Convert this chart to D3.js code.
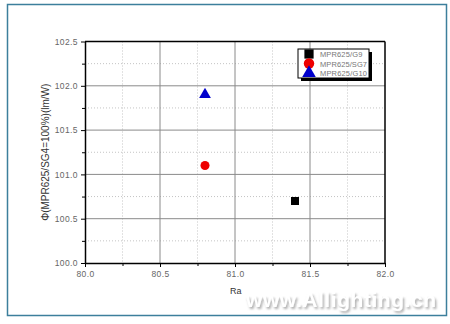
<!DOCTYPE html>
<html>
<head>
<meta charset="utf-8">
<script src="https://cdn.jsdelivr.net/npm/d3@7"></script>
<style>
  body { margin: 0; background: #fff; }
  svg { display: block; font-family: Arial, "Liberation Sans", sans-serif; }
</style>
</head>
<body>
<div id="chart"></div>
<script>
// data
const seriesNames = ['MPR625/G9', 'MPR625/SG7', 'MPR625/G10'];
const raValues = [81.4, 80.8, 80.8];
const fluxValues = [100.7, 101.1, 101.9];
const seriesColors = ['#000000', '#ee0000', '#0000cc'];
const seriesShapes = ['square', 'circle', 'triangle'];
const xTicks = [80.0, 80.5, 81.0, 81.5, 82.0];
const yTicks = [100.0, 100.5, 101.0, 101.5, 102.0, 102.5];

const width = 450, height = 324;
const margin = { top: 41.5, right: 65, bottom: 61, left: 85 };
const innerW = width - margin.left - margin.right;
const innerH = height - margin.top - margin.bottom;

const svg = d3.select('#chart').append('svg')
  .attr('width', width)
  .attr('height', height);

// soft shadow for the watermark
const defs = svg.append('defs');
defs.append('filter').attr('id', 'wmShadow')
  .attr('x', '-5%').attr('y', '-30%').attr('width', '115%').attr('height', '170%')
  .append('feDropShadow')
  .attr('dx', 1.5).attr('dy', 2).attr('stdDeviation', 1.2)
  .attr('flood-color', '#888').attr('flood-opacity', 0.7);

// outer frame
svg.append('rect')
  .attr('x', 7.5).attr('y', 4.5)
  .attr('width', 439).attr('height', 311)
  .attr('fill', '#fff')
  .attr('stroke', '#3c7f9c')
  .attr('stroke-width', 1.5);

const g = svg.append('g')
  .attr('transform', `translate(${margin.left},${margin.top})`);

const x = d3.scaleLinear().domain([80, 82]).range([0, innerW]);
const y = d3.scaleLinear().domain([100, 102.5]).range([innerH, 0]);

const minorX = d3.range(80.25, 82, 0.5);
const minorY = d3.range(100.25, 102.5, 0.5);

// minor dotted grid
g.append('g').selectAll('line').data(minorX).enter().append('line')
  .attr('x1', d => x(d)).attr('x2', d => x(d))
  .attr('y1', 0).attr('y2', innerH)
  .attr('stroke', '#c4c4c4').attr('stroke-dasharray', '1,2');
g.append('g').selectAll('line').data(minorY).enter().append('line')
  .attr('y1', d => y(d)).attr('y2', d => y(d))
  .attr('x1', 0).attr('x2', innerW)
  .attr('stroke', '#c4c4c4').attr('stroke-dasharray', '1,2');

// major grid
g.append('g').selectAll('line').data(xTicks.slice(1, -1)).enter().append('line')
  .attr('x1', d => x(d)).attr('x2', d => x(d))
  .attr('y1', 0).attr('y2', innerH)
  .attr('stroke', '#8a8a8a').attr('stroke-width', 1);
g.append('g').selectAll('line').data(yTicks.slice(1, -1)).enter().append('line')
  .attr('y1', d => y(d)).attr('y2', d => y(d))
  .attr('x1', 0).attr('x2', innerW)
  .attr('stroke', '#8a8a8a').attr('stroke-width', 1);

// axes
const styleAxis = sel => {
  sel.select('.domain').attr('stroke', '#000').attr('stroke-width', 1.5);
  sel.selectAll('.tick line').attr('stroke', '#000');
  sel.selectAll('.tick text').attr('fill', '#666').style('font-size', '8.5px').style('letter-spacing', '0.4px');
};

g.append('g')
  .attr('transform', `translate(0,${innerH})`)
  .call(d3.axisBottom(x).tickValues(xTicks).tickFormat(d3.format('.1f')).tickSize(4).tickSizeOuter(0).tickPadding(4))
  .call(styleAxis);
g.append('g')
  .attr('transform', `translate(0,${innerH})`)
  .call(d3.axisBottom(x).tickValues(minorX).tickFormat('').tickSize(3).tickSizeOuter(0))
  .call(sel => sel.select('.domain').remove())
  .call(sel => sel.selectAll('.tick line').attr('stroke', '#000'));

g.append('g')
  .call(d3.axisLeft(y).tickValues(yTicks).tickFormat(d3.format('.1f')).tickSize(4).tickSizeOuter(0).tickPadding(3))
  .call(styleAxis);
g.append('g')
  .call(d3.axisLeft(y).tickValues(minorY).tickFormat('').tickSize(3).tickSizeOuter(0))
  .call(sel => sel.select('.domain').remove())
  .call(sel => sel.selectAll('.tick line').attr('stroke', '#000'));

// top and right border
g.append('line').attr('x1', 0).attr('x2', innerW).attr('y1', 0).attr('y2', 0)
  .attr('stroke', '#000').attr('stroke-width', 1.5);
g.append('line').attr('x1', innerW).attr('x2', innerW).attr('y1', 0).attr('y2', innerH)
  .attr('stroke', '#000').attr('stroke-width', 1.5);

// axis titles
svg.append('text')
  .attr('x', 230).attr('y', 294)
  .attr('fill', '#333').style('font-size', '9px')
  .text('Ra');
svg.append('text')
  .attr('transform', `translate(49,${margin.top + innerH / 2}) rotate(-90)`)
  .attr('text-anchor', 'middle')
  .attr('fill', '#333').style('font-size', '10px')
  .text('Φ(MPR625/SG4=100%)(lm/W)');

// markers
const symbolType = { square: d3.symbolSquare, circle: d3.symbolCircle, triangle: d3.symbolTriangle };
const symbolSize = { square: 64, circle: 64, triangle: 60 };
const points = seriesNames.map((name, i) => ({
  name, ra: raValues[i], flux: fluxValues[i], color: seriesColors[i], shape: seriesShapes[i]
}));

g.selectAll('.pt').data(points).enter().append('path')
  .attr('class', 'pt')
  .attr('transform', d => `translate(${x(d.ra)},${y(d.flux)})`)
  .attr('d', d => d3.symbol(symbolType[d.shape], symbolSize[d.shape])())
  .attr('fill', d => d.color);

// legend
const lg = svg.append('g').attr('transform', 'translate(298,49)');
lg.append('rect').attr('x', 3).attr('y', 3).attr('width', 71).attr('height', 29).attr('fill', '#000');
lg.append('rect').attr('x', 0).attr('y', 0).attr('width', 71).attr('height', 29)
  .attr('fill', '#fff').attr('stroke', '#000').attr('stroke-width', 1);
const items = lg.selectAll('.item').data(points).enter().append('g')
  .attr('transform', (d, i) => `translate(0,${5 + i * 9.5})`);
items.append('path')
  .attr('transform', 'translate(11,0)')
  .attr('d', d => d3.symbol(symbolType[d.shape], d.shape === 'triangle' ? 80 : 85)())
  .attr('fill', d => d.color);
items.append('text')
  .attr('x', 22).attr('y', 3)
  .attr('fill', '#777').style('font-size', '7.5px')
  .attr('textLength', d => d.name.length * 4.7)
  .text(d => d.name);

// watermark
svg.append('text')
  .attr('x', 246).attr('y', 307)
  .attr('fill', '#fff').style('font-size', '21px').style('font-weight', 'bold')
  .attr('textLength', 190)
  .attr('filter', 'url(#wmShadow)')
  .text('www.Allighting.cn');
</script>
</body>
</html>
